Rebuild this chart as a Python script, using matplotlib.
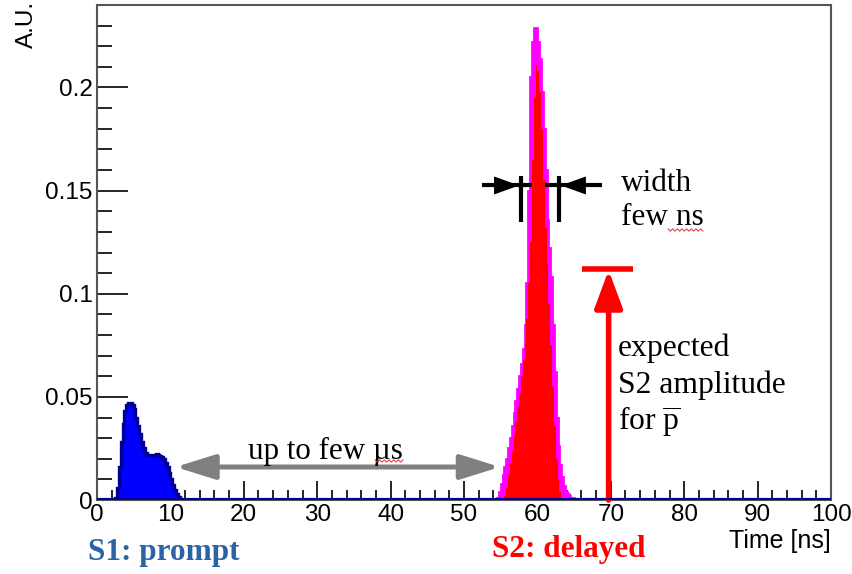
import numpy as np
import matplotlib.pyplot as plt
from matplotlib.ticker import MultipleLocator

plt.rcParams['font.family'] = ['Liberation Sans', 'DejaVu Sans']
plt.rcParams['mathtext.fontset'] = 'custom'
plt.rcParams['mathtext.rm'] = 'Liberation Serif'

# S1 (prompt) histogram, 0.25 ns bins starting at 2.5 ns
s1_start = 2.5
s1_vals = [0.001, 0.006, 0.016, 0.028, 0.037, 0.043, 0.046, 0.047, 0.047, 0.046,
           0.044, 0.040, 0.036, 0.032, 0.028, 0.025, 0.023, 0.022, 0.022, 0.022,
           0.022, 0.022, 0.0222, 0.022, 0.0215, 0.021, 0.020, 0.018, 0.016, 0.013,
           0.010, 0.0075, 0.005, 0.003, 0.0015, 0.0005]

# S2 (delayed) wider magenta histogram, 0.25 ns bins starting at 54.5 ns
s2w_start = 54.5
s2w_vals = [0.001, 0.004, 0.008, 0.012, 0.016, 0.020, 0.025, 0.030, 0.036, 0.042,
            0.048, 0.054, 0.060, 0.066, 0.073, 0.085, 0.105, 0.150, 0.205, 0.222,
            0.229, 0.229, 0.222, 0.214, 0.198, 0.180, 0.160, 0.136, 0.122, 0.108,
            0.085, 0.062, 0.040, 0.026, 0.017, 0.011, 0.007, 0.004, 0.003, 0.002,
            0.001, 0.001, 0.0005]

# S2 red histogram, 0.25 ns bins starting at 55.5 ns
s2_start = 55.5
s2_vals = [0.002, 0.006, 0.012, 0.018, 0.024, 0.031, 0.038, 0.045, 0.052, 0.060,
           0.068, 0.076, 0.088, 0.105, 0.125, 0.165, 0.195, 0.211, 0.208, 0.198,
           0.180, 0.155, 0.132, 0.115, 0.095, 0.075, 0.055, 0.036, 0.020, 0.010,
           0.004, 0.001]

bw = 0.25

def edges(start, vals):
    return start + bw * np.arange(len(vals) + 1)

fig = plt.figure(figsize=(8.52, 5.74), dpi=100)
ax = fig.add_axes([0.1138, 0.1289, 0.8616, 0.8624])

# baseline histogram over the full range
ax.plot([0, 100], [0, 0], color='#000099', lw=3, zorder=5, solid_capstyle='butt')

ax.stairs(s2w_vals, edges(s2w_start, s2w_vals), fill=True, color='#FF00FF', zorder=2)
ax.stairs(s2w_vals, edges(s2w_start, s2w_vals), fill=False, color='#FF00FF', lw=2, zorder=2)
ax.stairs(s2_vals, edges(s2_start, s2_vals), fill=True, color='#FF0000', zorder=3)
ax.stairs(s1_vals, edges(s1_start, s1_vals), fill=True, color='#0000FF', zorder=3)
ax.stairs(s1_vals, edges(s1_start, s1_vals), fill=False, color='#000099', lw=2.4, zorder=4)

ax.set_xlim(0, 100)
ax.set_ylim(0, 0.24)

ax.xaxis.set_major_locator(MultipleLocator(10))
ax.xaxis.set_minor_locator(MultipleLocator(2))
ax.yaxis.set_minor_locator(MultipleLocator(0.01))
ax.set_yticks([0, 0.05, 0.1, 0.15, 0.2])
ax.set_yticklabels(['0', '0.05', '0.1', '0.15', '0.2'])
ax.tick_params(axis='x', which='major', direction='in', length=14, width=1.2, labelsize=17.5, pad=3)
ax.tick_params(axis='x', which='minor', direction='in', length=7, width=1.2)
ax.tick_params(axis='y', which='major', direction='in', length=22, width=1.2, labelsize=17.5, pad=3)
ax.tick_params(axis='y', which='minor', direction='in', length=11, width=1.2)
for s in ax.spines.values():
    s.set_color('#555555')
    s.set_linewidth(1.5)

fig.text(0.032, 0.999, 'A.U.', rotation=90, ha='center', va='top', fontsize=17.5)
fig.text(0.975, 0.058, 'Time [ns]', ha='right', va='center', fontsize=18)

serif = ['Liberation Serif', 'DejaVu Serif']
fig.text(0.103, 0.037, 'S1: prompt', color='#2A63A6', fontsize=22.5, fontweight='bold',
         family=serif, ha='left', va='center')
fig.text(0.577, 0.043, 'S2: delayed', color='#FF0000', fontsize=22.5, fontweight='bold',
         family=serif, ha='left', va='center')

# gray double arrow
ax.annotate('', xy=(10.7, 0.016), xytext=(54.9, 0.016),
            arrowprops=dict(arrowstyle='<|-|>,head_length=2.4,head_width=0.75',
                            color='#808080', lw=3.6, shrinkA=0, shrinkB=0))
ax.text(31.1, 0.0235, 'up to few µs', family=serif, fontsize=22.3, ha='center', va='center')

# width marker
yw = 0.1525
ax.plot([52.5, 68.8], [yw, yw], color='black', lw=3, solid_capstyle='butt')
ax.plot([57.75, 57.75], [0.135, 0.157], color='black', lw=3, solid_capstyle='butt')
ax.plot([62.9, 62.9], [0.135, 0.157], color='black', lw=3, solid_capstyle='butt')
ax.annotate('', xy=(57.5, yw), xytext=(53.0, yw),
            arrowprops=dict(arrowstyle='-|>,head_length=1.8,head_width=0.65',
                            color='black', lw=0, shrinkA=0, shrinkB=0))
ax.annotate('', xy=(63.2, yw), xytext=(67.7, yw),
            arrowprops=dict(arrowstyle='-|>,head_length=1.8,head_width=0.65',
                            color='black', lw=0, shrinkA=0, shrinkB=0))
ax.text(71.4, 0.1535, 'width', family=serif, fontsize=22.5, ha='left', va='center')
ax.text(71.4, 0.137, 'few ns', family=serif, fontsize=22.5, ha='left', va='center')

# expected amplitude
ax.plot([66.1, 73.0], [0.112, 0.112], color='#FF0000', lw=4, solid_capstyle='butt')
ax.annotate('', xy=(69.7, 0.1115), xytext=(69.7, 0.0),
            arrowprops=dict(arrowstyle='-|>,head_length=2.3,head_width=0.85',
                            color='#FF0000', lw=4, shrinkA=0, shrinkB=0))
ax.text(71.0, 0.0735, 'expected', family=serif, fontsize=22.8, ha='left', va='center')
ax.text(71.0, 0.0555, 'S2 amplitude', family=serif, fontsize=22.8, ha='left', va='center')
ax.text(71.0, 0.038, r'for $\overline{\mathrm{p}}$', family=serif, fontsize=22.8,
        ha='left', va='center')

# spell-check squiggles under "ns" and "µs" (pixel positions)
def squiggle(x0, x1, y, n):
    xs = np.linspace(x0, x1, n)
    ys = y + np.where(np.arange(n) % 2 == 0, -1.2, 1.2)
    fig.add_artist(plt.Line2D(xs / 852, 1 - ys / 574, color='#E03030', lw=0.7))

squiggle(668, 703, 230, 16)
squiggle(375, 403, 461, 13)

fig.savefig('out.png', dpi=100)
